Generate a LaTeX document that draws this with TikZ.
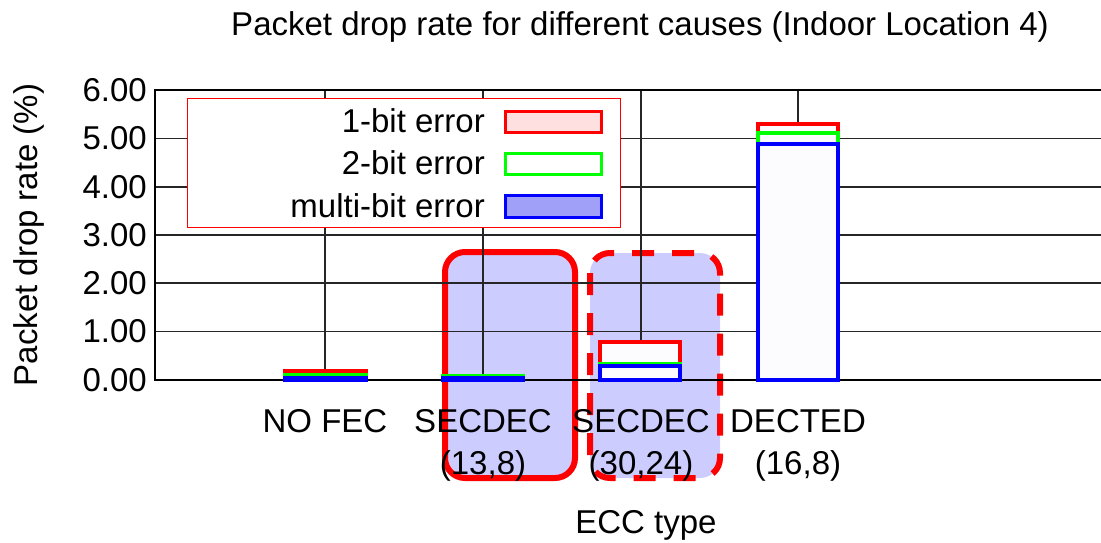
\documentclass[tikz,border=0pt]{standalone}
\usepackage{fontspec}
\setmainfont{Liberation Sans}
\usepackage{tikz}

\definecolor{hilite}{RGB}{204,204,255}
\definecolor{onefill}{RGB}{255,224,224}
\definecolor{multifill}{RGB}{160,160,248}
\definecolor{barfill}{RGB}{252,252,254}

\tikzset{
  gridline/.style={line width=1.5pt, black!85},
  bar/.style={line width=3.5pt, fill=barfill},
  hibox/.style={line width=6pt, draw=red, fill=hilite, rounded corners=20pt},
  txt/.style={font=\fontsize{33}{36}\selectfont, inner sep=0pt},
}

\begin{document}
\begin{tikzpicture}[x=1pt,y=-1pt]
\useasboundingbox (0,0) rectangle (1101,543);

\draw[hibox] (445,252) rectangle (575,478);
\draw[hibox, dash pattern=on 22pt off 18pt] (590,253) rectangle (720,478);

\draw[gridline] (155,138.5) -- (1101,138.5); \draw[gridline] (155,187) -- (1101,187);
\draw[gridline] (155,235) -- (1101,235);     \draw[gridline] (155,283) -- (1101,283);
\draw[gridline] (155,331.5) -- (1101,331.5);
\draw[gridline] (325,90) -- (325,375);  \draw[gridline] (483,90) -- (483,376);
\draw[gridline] (641,90) -- (641,342);  \draw[gridline] (798,90) -- (798,124);
\draw[line width=2pt] (1101,90) -- (155,90) -- (155,380) -- (1101,380);

\draw[bar, draw=red] (285,371) rectangle (366,380);  \draw[bar, draw=green] (285,375) rectangle (366,380);  \draw[bar, draw=blue] (285,377.5) rectangle (366,380);
\draw[bar, draw=red] (443,376) rectangle (523,380);  \draw[bar, draw=green] (443,376) rectangle (523,380);  \draw[bar, draw=blue] (443,378) rectangle (523,380);
\draw[bar, draw=red] (600,342) rectangle (680,380);  \draw[bar, draw=green] (600,364) rectangle (680,380);  \draw[bar, draw=blue] (600,366) rectangle (680,380);
\draw[bar, draw=red] (758,124) rectangle (838,380);  \draw[bar, draw=green] (758,133) rectangle (838,380);  \draw[bar, draw=blue] (758,144) rectangle (838,380);

\draw[draw=red, line width=1pt, fill=white] (187,99) rectangle (620,227);
\draw[draw=red, line width=3pt, fill=onefill] (505,111) rectangle (601,132);
\draw[draw=green, line width=3pt, fill=white] (505,153) rectangle (601,174);
\draw[draw=blue, line width=3pt, fill=multifill] (505,195) rectangle (601,217);
\node[txt, anchor=east] (one) at (485,121) {1-bit error};
\node[txt, anchor=east] (two) at (485,163) {2-bit error};
\node[txt, anchor=east] (multi) at (485,206) {multi-bit error};

\node[txt, anchor=east] (t6) at (147,90) {6.00};
\node[txt, anchor=east] (t5) at (147,138.5) {5.00};
\node[txt, anchor=east] (t4) at (147,187) {4.00};
\node[txt, anchor=east] (t3) at (147,235) {3.00};
\node[txt, anchor=east] (t2) at (147,283) {2.00};
\node[txt, anchor=east] (t1) at (147,331.5) {1.00};
\node[txt, anchor=east] (t0) at (147,380) {0.00};

\node[txt] (nofec) at (325,421) {NO FEC};
\node[txt] (secA) at (483,421) {SECDEC};
\node[txt] (secAk) at (483,466) {(13,8)};
\node[txt] (secB) at (641,421) {SECDEC};
\node[txt] (secBk) at (641,466) {(30,24)};
\node[txt] (dec) at (798,421) {DECTED};
\node[txt] (deck) at (798,466) {(16,8)};

\node[txt] (title) at (640,27) {Packet drop rate for different causes (Indoor Location 4)};
\node[txt] (xlabel) at (646,525) {ECC type};
\node[txt, rotate=90] (ylabel) at (29,235) {Packet drop rate (\%)};

\end{tikzpicture}
\end{document}
